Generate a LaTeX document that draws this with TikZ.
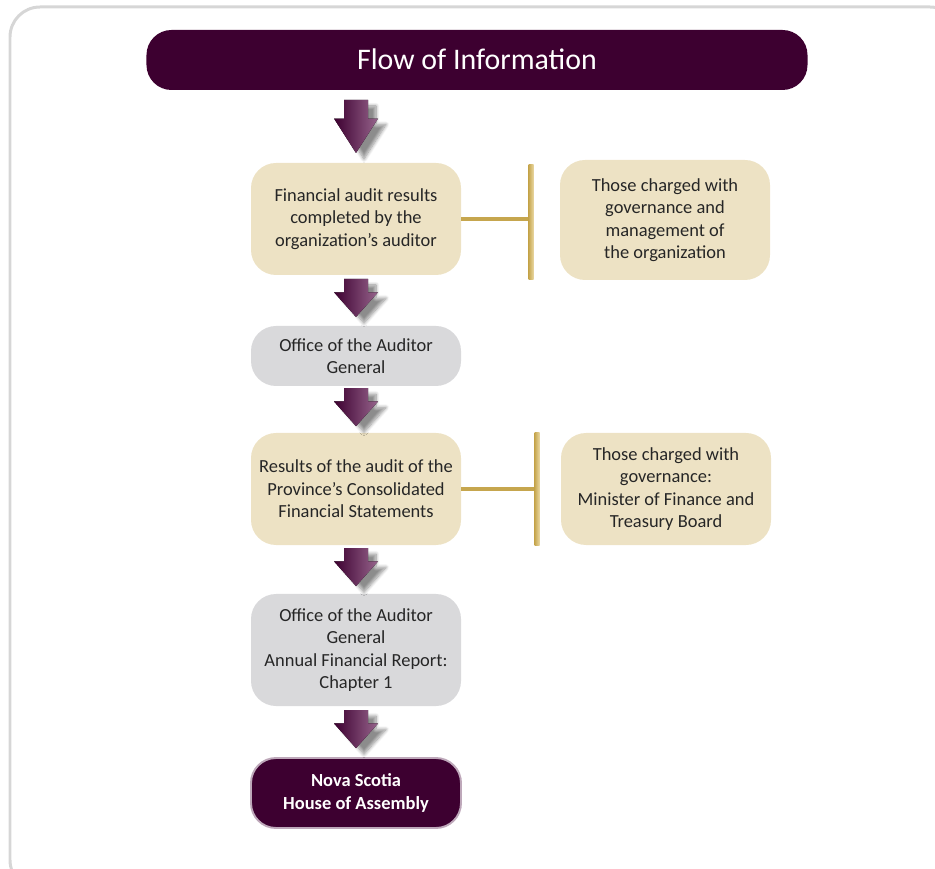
\documentclass[tikz,border=0pt]{standalone}
\usepackage{fontspec}
\setmainfont{Carlito}
\usetikzlibrary{calc,shadows.blur}
\definecolor{plum}{RGB}{61,0,48}
\definecolor{plumedge}{RGB}{190,168,186}
\definecolor{arrowlight}{RGB}{150,100,140}
\definecolor{tan}{RGB}{237,226,196}
\definecolor{boxgrey}{RGB}{217,217,219}
\definecolor{boxtext}{RGB}{38,38,38}
\definecolor{gold}{RGB}{198,166,78}
\definecolor{goldlight}{RGB}{232,214,160}
\definecolor{framegrey}{RGB}{214,214,214}

\begin{document}
\begin{tikzpicture}[x=0.2mm,y=-0.2mm,
	box/.style={rounded corners=0.5cm, minimum width=4.2cm, minimum height=2.24cm, inner sep=0pt, align=center, text=boxtext, font=\fontsize{10.5}{12.8}\selectfont},
	tanbox/.style={box, fill=tan},
	greybox/.style={box, fill=boxgrey},
	goldline/.style={gold, line width=2pt},
	goldbar/.style={left color=gold, right color=goldlight, minimum width=1mm, inner sep=0pt},
	pics/downarrow/.style={code={
		\fill[left color=plum, right color=arrowlight, blur shadow={shadow xshift=1.6mm, shadow yshift=-1.2mm, shadow blur steps=8, shadow opacity=45}]
			(-12,-#1/2) -- (12,-#1/2) -- (12,-0.15*#1) -- (22,-0.15*#1) -- (0,#1/2) -- (-22,-0.15*#1) -- (-12,-0.15*#1) -- cycle;
	}}]
			\clip (0,0) rectangle (935,869);
			\draw[framegrey, line width=1.7pt, rounded corners=0.6cm] (10,7) rectangle (960,890);
			\node[rounded corners=0.5cm, fill=plum, text=white, minimum width=13.22cm, minimum height=1.2cm, font=\fontsize{17}{20}\selectfont] (title) at (477,60) {\raisebox{1pt}{Flow of Information}};
			\node[tanbox] (finaudit) at (356,219) {Financial audit results\\completed by the\\organization’s auditor};
			\node[tanbox, minimum height=2.4cm] (govmgmt) at (665,220) {Those charged with\\governance and\\management of\\the organization};
			\node[greybox, minimum height=1.2cm] (oag) at (356,356) {Office of the Auditor\\General};
			\node[tanbox] (province) at (356,489) {Results of the audit of the\\Province’s Consolidated\\Financial Statements};
			\node[tanbox] (minister) at (666,489) {Those charged with\\governance:\\Minister of Finance and\\Treasury Board};
			\node[greybox] (report) at (356,650) {Office of the Auditor\\General\\Annual Financial Report:\\Chapter 1};
			\node[box, fill=plum, draw=plumedge, line width=1.1pt, minimum height=1.4cm, text=white, font=\fontsize{10.5}{12.8}\selectfont\bfseries] (house) at (356,793) {Nova Scotia\\House of Assembly};
			\node[goldbar, minimum height=2.3cm] (bar1) at (531,222) {};
			\node[goldbar, minimum height=2.26cm] (bar2) at (537,489) {};
			\draw[goldline] (finaudit.east) -- (finaudit.east -| bar1.west);
			\draw[goldline] (province.east) -- (province.east -| bar2.west);
			\pic at ($(finaudit.north)!0.5!(finaudit.north |- title.south)$) {downarrow=53};
			\pic at ($(finaudit.south)!0.45!(oag.north)$) {downarrow=38};
			\pic at ($(oag.south)!0.45!(province.north)$) {downarrow=38};
			\pic at ($(province.south)!0.45!(report.north)$) {downarrow=38};
			\pic at ($(report.south)!0.45!(house.north)$) {downarrow=38};
\end{tikzpicture}
\end{document}
